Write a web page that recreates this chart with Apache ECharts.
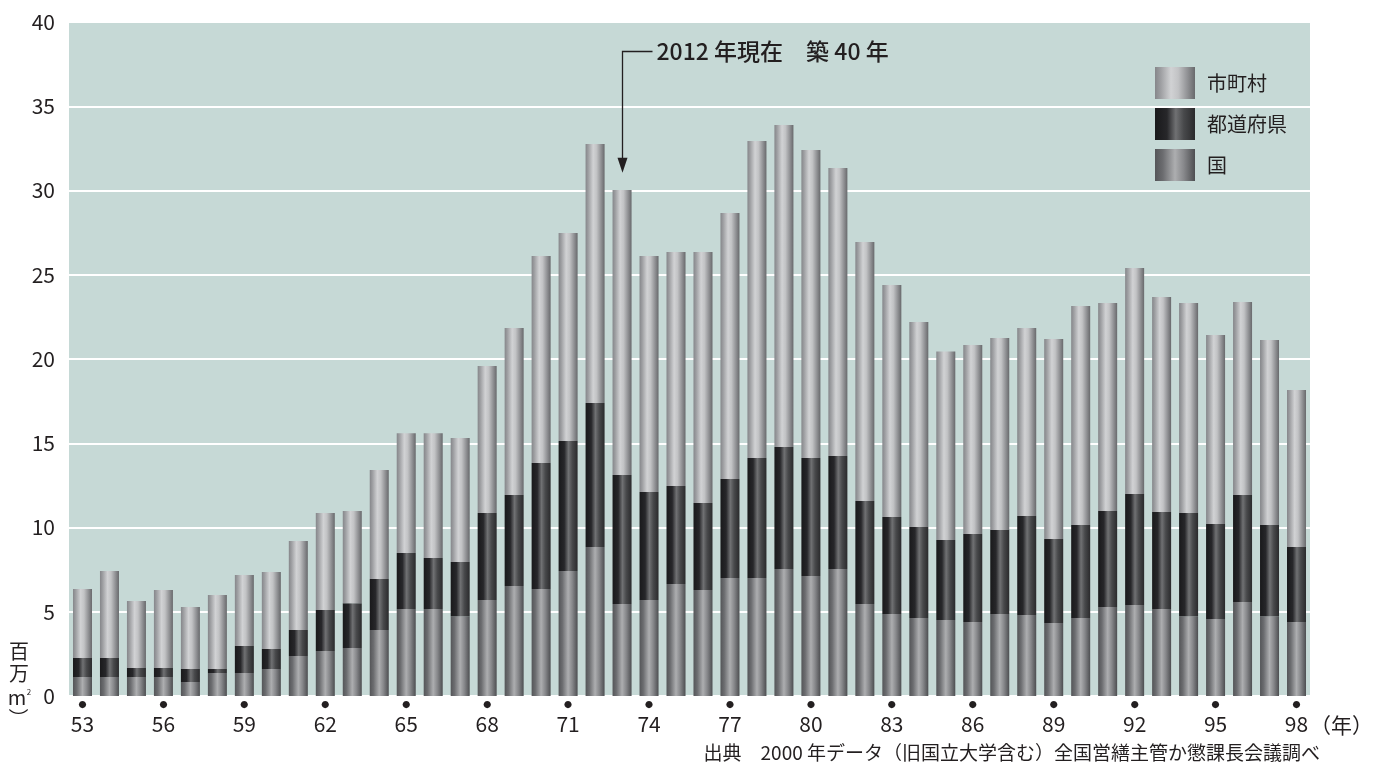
<!DOCTYPE html>
<html>
<head>
<meta charset="utf-8">
<script src="https://cdn.jsdelivr.net/npm/echarts@6/dist/echarts.min.js"></script>
<style>
html,body{margin:0;padding:0;background:#fff;}
#main{width:1376px;height:764px;}
</style>
</head>
<body>
<div id="main"></div>
<script>
// Categories: years 1953-1998 (two-digit labels)
const years = ['53','54','55','56','57','58','59','60','61','62','63','64','65','66','67','68','69','70','71','72','73','74','75','76','77','78','79','80','81','82','83','84','85','86','87','88','89','90','91','92','93','94','95','96','97','98'];

// 国 (bottom segment), 百万m²
const kuni = [1.13,1.13,1.13,1.13,0.83,1.37,1.37,1.60,2.37,2.67,2.85,3.92,5.16,5.16,4.74,5.70,6.53,6.35,7.42,8.84,5.46,5.70,6.65,6.29,7.00,7.00,7.54,7.12,7.54,5.46,4.87,4.63,4.51,4.39,4.87,4.81,4.33,4.63,5.28,5.40,5.16,4.74,4.57,5.58,4.74,4.39];

// 都道府県 (middle segment)
const todofuken = [1.13,1.13,0.53,0.53,0.77,0.23,1.60,1.19,1.55,2.43,2.66,3.02,3.33,3.03,3.21,5.16,5.40,7.48,7.71,8.55,7.66,6.41,5.81,5.16,5.88,7.12,7.24,7.00,6.70,6.11,5.75,5.40,4.75,5.22,4.98,5.87,4.99,5.52,5.70,6.59,5.76,6.12,5.64,6.35,5.41,4.45];

// 市町村 (top segment)
const shichoson = [4.09,5.16,3.98,4.63,3.68,4.39,4.21,4.57,5.28,5.76,5.47,6.47,7.11,7.41,7.36,8.72,9.91,12.28,12.35,15.37,16.91,14.00,13.89,14.90,15.78,18.82,19.11,18.28,17.10,15.37,13.77,12.17,11.19,11.22,11.40,11.16,11.87,13.00,12.34,13.41,12.76,12.46,11.21,11.45,10.98,9.32];

const yTicks = [0,5,10,15,20,25,30,35,40];

const FONT = "'Noto Sans CJK JP', 'Noto Sans', sans-serif";
const INK = '#231f20';

function grad(stops){
  return new echarts.graphic.LinearGradient(0,0,1,0, stops.map(s=>({offset:s[0], color:s[1]})));
}
const cShi = grad([[0,'#85868a'],[0.15,'#9fa0a3'],[0.4,'#d1d2d4'],[0.58,'#c2c3c5'],[0.8,'#939497'],[1,'#68696c']]);
const cTo  = grad([[0,'#19191b'],[0.3,'#27272a'],[0.52,'#707173'],[0.72,'#48494b'],[1,'#2a2a2c']]);
const cKu  = grad([[0,'#545558'],[0.2,'#6c6d70'],[0.5,'#adaeb0'],[0.72,'#87888b'],[1,'#4d4e51']]);

const chart = echarts.init(document.getElementById('main'), null, {renderer:'canvas'});

const option = {
  animation:false,
  backgroundColor:'#ffffff',
  textStyle:{fontFamily:FONT, color:INK},
  grid:{left:69, right:66, top:22, bottom:68, show:true, backgroundColor:'#c6d9d6', borderWidth:0, containLabel:false},
  legend:{
    orient:'vertical', left:1155, top:67, padding:0, itemWidth:40, itemHeight:32, itemGap:9, icon:'rect',
    data:['市町村','都道府県','国'],
    textStyle:{fontSize:20, color:INK, fontFamily:FONT, padding:[0,0,0,7]}
  },
  xAxis:{
    type:'category', data:years,
    axisLine:{show:false}, axisTick:{show:false},
    axisLabel:{
      interval:2, margin:2,
      formatter:function(v){ return '{d|●}\n{n|' + v + '}'; },
      rich:{
        d:{fontSize:8, lineHeight:14, color:INK, fontFamily:FONT},
        n:{fontSize:21, lineHeight:24, color:INK, fontFamily:FONT}
      }
    }
  },
  yAxis:{
    type:'value', min:0, max:40, interval:5,
    axisLine:{show:false}, axisTick:{show:false},
    axisLabel:{fontSize:21, color:INK, margin:14, fontFamily:FONT,
      customValues: yTicks},
    splitLine:{lineStyle:{color:'#ffffff', width:2}}
  },
  series:[
    {name:'国', type:'bar', stack:'t', data:kuni, barWidth:19, itemStyle:{color:cKu}},
    {name:'都道府県', type:'bar', stack:'t', data:todofuken, barWidth:19, itemStyle:{color:cTo}},
    {name:'市町村', type:'bar', stack:'t', data:shichoson, barWidth:19, itemStyle:{color:cShi}}
  ]
};
chart.setOption(option);

// Annotation arrow pointing at 1973 bar, positioned through the chart's scales
const pTop = chart.convertToPixel({gridIndex:0}, ['73', 38.26]);
const pTip = chart.convertToPixel({gridIndex:0}, ['73', 31.05]);
const ax = Math.round(pTop[0]) + 0.5;
const ly = Math.round(pTop[1]) + 0.5;

chart.setOption({
  graphic:[
    {type:'polyline', shape:{points:[[ax+30, ly],[ax, ly],[ax, pTip[1]-12]]}, style:{stroke:INK, lineWidth:1.3, fill:null}, z:100},
    {type:'polygon', shape:{points:[[ax-5, pTip[1]-15],[ax+5, pTip[1]-15],[ax, pTip[1]]]}, style:{fill:INK}, z:100},
    {type:'text', x:ax+34, y:ly, style:{text:'2012 年現在　築 40 年', font:'500 23px '+FONT, fill:INK, textVerticalAlign:'middle', textAlign:'left'}, z:100},
    // y-axis unit (vertical)
    {type:'text', x:19, y:651, style:{text:'百', font:'20px '+FONT, fill:INK, textAlign:'center', textVerticalAlign:'middle'}},
    {type:'text', x:19, y:673, style:{text:'万', font:'20px '+FONT, fill:INK, textAlign:'center', textVerticalAlign:'middle'}},
    {type:'text', x:17, y:697, style:{text:'m', font:'20px '+FONT, fill:INK, textAlign:'center', textVerticalAlign:'middle'}},
    {type:'text', x:29, y:692, style:{text:'2', font:'8px '+FONT, fill:INK, textAlign:'center', textVerticalAlign:'middle'}},
    {type:'text', x:19, y:718, rotation:-Math.PI/2, originX:0, originY:0, style:{text:'）', font:'20px '+FONT, fill:INK, textAlign:'center', textVerticalAlign:'middle'}},
    // x-axis unit
    {type:'text', x:1310, y:725, style:{text:'（年）', font:'21px '+FONT, fill:INK, textAlign:'left', textVerticalAlign:'middle'}},
    // source
    {type:'text', x:1320, y:753, style:{text:'出典　2000 年データ（旧国立大学含む）全国営繕主管か懲課長会議調べ', font:'19px '+FONT, fill:INK, textAlign:'right', textVerticalAlign:'middle'}}
  ]
});
</script>
</body>
</html>
